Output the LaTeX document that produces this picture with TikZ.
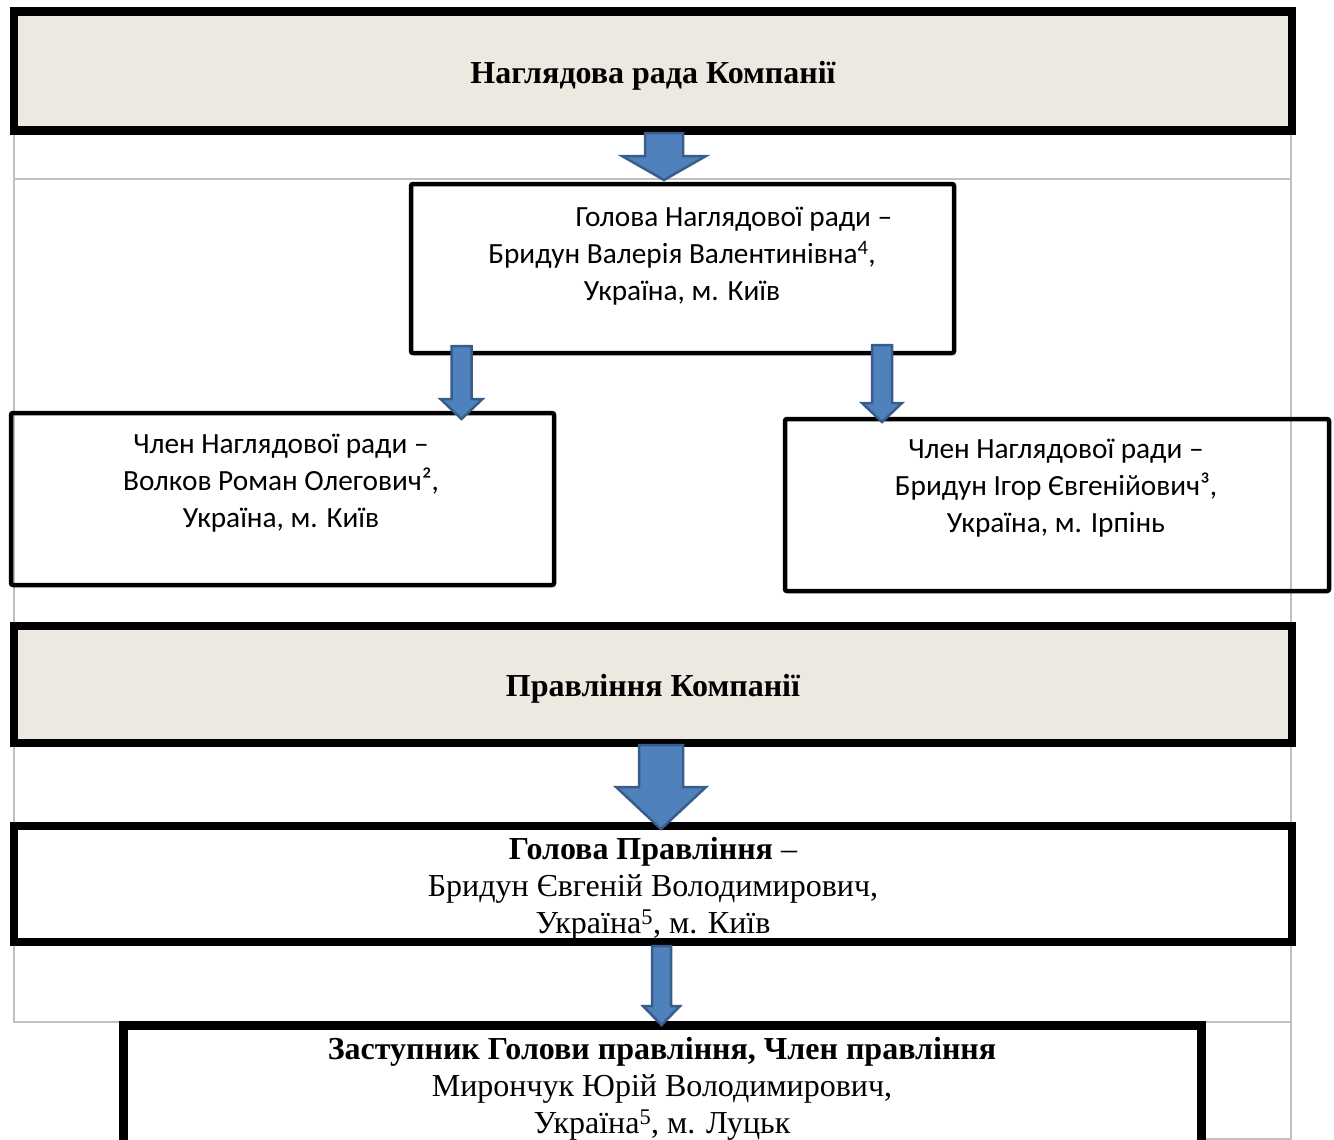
\documentclass[tikz,border=0pt]{standalone}
\usepackage{fontspec}
\setmainfont{Liberation Serif}
\newfontfamily\calibri{Carlito}
\usetikzlibrary{positioning, calc}
\definecolor{boardfill}{HTML}{ECEAE0}
\definecolor{arrowfill}{HTML}{4F81BD}
\definecolor{arrowline}{HTML}{385D8A}
\definecolor{gridline}{HTML}{C0C0C0}
\tikzset{
    widebox/.style={draw, line width=8.5pt, minimum width=1278pt, inner sep=0pt},
    boardbox/.style={widebox, fill=boardfill},
    memberbox/.style={draw, line width=4.5pt, rounded corners=2pt, inner sep=0pt},
    sanstext/.style={font=\calibri\fontsize{29.3}{37}\selectfont, align=center, inner sep=0pt},
    seriftext/.style={font=\fontsize{32}{37}\selectfont, align=center, inner sep=0pt},
    gridrule/.style={draw=gridline, line width=1.5pt}
}
\newcommand{\blockarrow}[5]{%
    \filldraw[fill=arrowfill, draw=arrowline, line width=2.5pt]
        let \p1=(#1), \p2=(#2) in
        (\x1-#3pt,\y1) -- (\x1+#3pt,\y1) -- (\x1+#3pt,\y2+#5pt) -- (\x1+#4pt,\y2+#5pt)
        -- (\x1,\y2) -- (\x1-#4pt,\y2+#5pt) -- (\x1-#3pt,\y2+#5pt) -- cycle;
}

\begin{document}
\begin{tikzpicture}[x=1pt, y=-1pt]
    \useasboundingbox (0,0) rectangle (1334,1140);
    % table rules
    \draw[gridrule] (14,131) -- (14,1022) -- (1291,1022);
    \draw[gridrule] (1291,131) -- (1291,1140);
    \draw[gridrule] (14,179) -- (1291,179);
    \draw[gridrule] (122,1139) -- (1291,1139);

    \node[boardbox, minimum height=119pt] (board) at (653,71) {};
    \node[seriftext, font=\bfseries\fontsize{32}{37}\selectfont] (boardT) at (653,76) {Наглядова рада Компанії};

    \node[memberbox, minimum width=543pt, minimum height=169pt] (chair) at (682.5,268.5) {};
    \node[sanstext] (chairT) at (682,256) {\hspace*{104pt}Голова Наглядової ради –\\
        Бридун Валерія Валентинівна\textsuperscript{4},\\ Україна, м. Київ};

    \node[memberbox, minimum width=543pt, minimum height=172pt] (left) at (282.5,499) {};
    \node[sanstext] (leftT) at (281,483) {Член Наглядової ради –\\
        Волков Роман Олегович², \\ Україна, м. Київ};

    \node[memberbox, minimum width=544pt, minimum height=172pt] (right) at (1057,505) {};
    \node[sanstext] (rightT) at (1056,488) {Член Наглядової ради –\\
        Бридун Ігор Євгенійович³, \\ Україна, м. Ірпінь};

    \node[boardbox, minimum height=117pt] (board2) at (653,684.5) {};
    \node[seriftext, font=\bfseries\fontsize{32}{37}\selectfont] (board2T) at (653,689) {Правління Компанії};

    \node[widebox, fill=white, minimum height=116pt] (head) at (653,884) {};
    \node[seriftext] (headT) at (653,889) {\textbf{Голова Правління} –\\
        Бридун Євгеній Володимирович,\\ Україна\textsuperscript{5}, м. Київ};

    \node[draw, line width=9pt, fill=white, inner sep=0pt, minimum width=1078pt, minimum height=134pt] (deputy) at (662.5,1092.75) {};
    \node[seriftext] (deputyT) at (662,1089) {\textbf{Заступник Голови правління, Член правління}\\
        Мирончук Юрій Володимирович,\\ Україна\textsuperscript{5}, м. Луцьк};

    % arrows
    \coordinate (a1s) at (664,133);   \coordinate (a1e) at (664,180);
    \coordinate (a2s) at (461.5,346); \coordinate (a2e) at (461.5,419);
    \coordinate (a3s) at (882,345);   \coordinate (a3e) at (882,422);
    \coordinate (a4s) at (661,745);   \coordinate (a4e) at (661,829);
    \coordinate (a5s) at (661.5,946); \coordinate (a5e) at (661.5,1025);
    \blockarrow{a1s}{a1e}{19}{42}{24}
    \blockarrow{a2s}{a2e}{10}{21}{20}
    \blockarrow{a3s}{a3e}{10}{20}{19}
    \blockarrow{a4s}{a4e}{22}{45}{42}
    \blockarrow{a5s}{a5e}{9.5}{18.5}{19}
\end{tikzpicture}
\end{document}
